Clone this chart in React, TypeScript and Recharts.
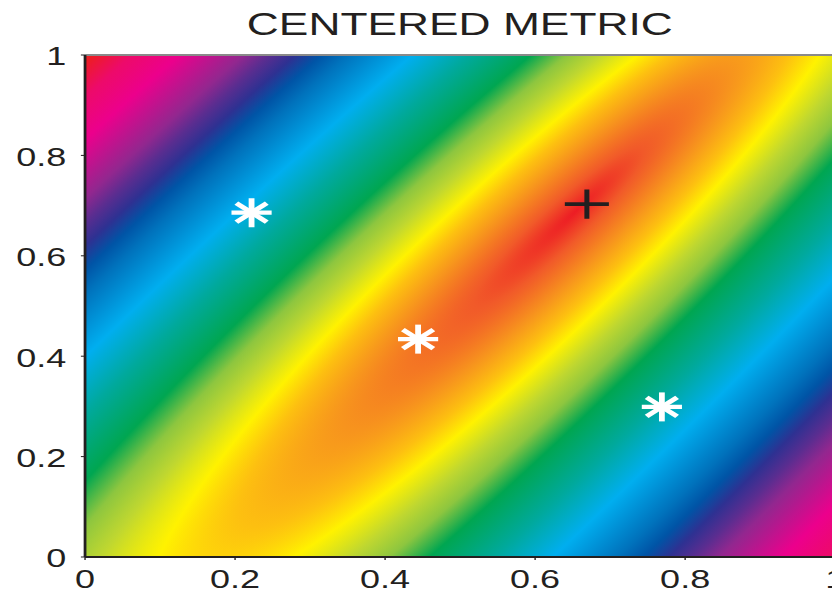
import React from "react";
import { ScatterChart, Scatter, XAxis, YAxis, ReferenceArea, ReferenceLine } from "recharts";

const xTicks = [0, 0.2, 0.4, 0.6, 0.8, 1];
const yTicks = [0, 0.2, 0.4, 0.6, 0.8, 1];

// white asterisks
const starX = [0.222, 0.444, 0.769];
const starY = [0.686, 0.434, 0.299];
// black cross (the centre)
const centerX = [0.669];
const centerY = [0.703];

// metric level of each colour band, 0 = red valley at the centre
const levels = [0, 0.35, 0.8, 1.15, 1.45, 1.85, 2.2, 2.6, 3.3, 3.95, 4.7, 5.0, 5.3, 5.6, 5.9, 6.65, 7.2, 7.65, 8.6];
const levelColors = [
  "#ED1C24", "#F15A29", "#F7941D", "#FDC010", "#FFF200", "#BFD730", "#8DC63F", "#00A651",
  "#00A99D", "#00AEEF", "#0072BC", "#0054A6", "#2E3192", "#5B2D90", "#92278F", "#EC008C",
  "#ED0A6A", "#ED1C24", "#F15A29",
];

// shape of the level sets (data units)
const FOCUS = [0.655, 0.69];
const AXIS_DEG = 55;
const T_MAX = 10;
const FOCAL = 0.21;
const R_MAJOR = 5.5;
const R_MINOR = 0.938;

const SX = 1.385; // the figure is stretched sideways
const INK = "#231F20";
const FONT = "'Liberation Sans', Arial, sans-serif";

const stars = starX.map((x, i) => ({ x, y: starY[i] }));
const centers = centerX.map((x, i) => ({ x, y: centerY[i] }));

const fmt = (v: number) => String(v);

function FieldShape(props: any) {
  const { x, y, width: W, height: H } = props;
  const phi = (AXIS_DEG * Math.PI) / 180;
  const cos = Math.cos(phi);
  const sin = Math.sin(phi);
  const cxd = FOCUS[0] - FOCAL * R_MAJOR * cos;
  const cyd = FOCUS[1] - FOCAL * R_MAJOR * sin;
  const m = [
    W * R_MAJOR * cos,
    -H * R_MAJOR * sin,
    -W * R_MINOR * sin,
    -H * R_MINOR * cos,
    x + cxd * W,
    y + (1 - cyd) * H,
  ];
  return (
    <g>
      <defs>
        <radialGradient
          id="metricField"
          gradientUnits="userSpaceOnUse"
          cx={0}
          cy={0}
          r={1}
          fx={FOCAL}
          fy={0}
          gradientTransform={`matrix(${m.join(" ")})`}
        >
          {levels.map((t, i) => (
            <stop key={i} offset={t / T_MAX} stopColor={levelColors[i]} />
          ))}
        </radialGradient>
      </defs>
      <rect x={x} y={y} width={W} height={H} fill="url(#metricField)" />
    </g>
  );
}

function Asterisk(props: any) {
  const { cx, cy } = props;
  const r = 14.5;
  const dx = 11;
  const dy = 9.5;
  return (
    <g stroke="#fff" strokeWidth={4.2}>
      <line x1={cx - r} y1={cy} x2={cx + r} y2={cy} />
      <line x1={cx} y1={cy - r} x2={cx} y2={cy + r} />
      <line x1={cx - dx} y1={cy - dy} x2={cx + dx} y2={cy + dy} />
      <line x1={cx - dx} y1={cy + dy} x2={cx + dx} y2={cy - dy} />
    </g>
  );
}

function Cross(props: any) {
  const { cx, cy } = props;
  return (
    <g stroke={INK} strokeWidth={3.6}>
      <line x1={cx - 15.9} y1={cy} x2={cx + 15.9} y2={cy} />
      <line x1={cx} y1={cy - 14.7} x2={cx} y2={cy + 14.7} />
    </g>
  );
}

function XTick(props: any) {
  const { x, y, payload } = props;
  return (
    <text x={x} y={y} dy={28.5} textAnchor="middle" fontSize={26} fontFamily={FONT} fill={INK}>
      {fmt(payload.value)}
    </text>
  );
}

function YTick(props: any) {
  const { x, y, payload } = props;
  return (
    <text x={x} y={y} dy={10.5} textAnchor="end" fontSize={26} fontFamily={FONT} fill={INK}>
      {fmt(payload.value)}
    </text>
  );
}

export default function App() {
  return (
    <div style={{ position: "absolute", left: 0, top: 0, width: 832, height: 594, overflow: "hidden", background: "#fff" }}>
      <div style={{ position: "relative", width: 620, height: 594, transform: `scale(${SX},1)`, transformOrigin: "0 0" }}>
        <div
          style={{
            position: "absolute",
            left: 0,
            top: 8,
            width: 664,
            textAlign: "center",
            fontFamily: FONT,
            fontSize: 32,
            lineHeight: "32px",
            color: INK,
          }}
        >
          CENTERED METRIC
        </div>
        <ScatterChart width={620} height={594} margin={{ top: 55, right: 17, bottom: 0, left: 0 }}>
          <XAxis
            type="number"
            dataKey="x"
            domain={[0, 1]}
            ticks={xTicks}
            height={37}
            tick={XTick}
            tickSize={3}
            tickMargin={0}
            axisLine={{ stroke: INK, strokeWidth: 2 }}
            tickLine={{ stroke: INK }}
            allowDataOverflow
          />
          <YAxis
            type="number"
            dataKey="y"
            domain={[0, 1]}
            ticks={yTicks}
            width={61.4}
            tick={YTick}
            tickSize={3}
            tickMargin={10.5}
            axisLine={{ stroke: INK, strokeWidth: 2 }}
            tickLine={{ stroke: INK }}
            allowDataOverflow
          />
          <ReferenceArea x1={0} x2={1} y1={0} y2={1} shape={FieldShape} />
          <ReferenceLine y={1} stroke="#8a8a8a" strokeWidth={2} />
          <ReferenceLine x={1} stroke="#8a8a8a" strokeWidth={2} />
          <Scatter data={stars} shape={Asterisk} isAnimationActive={false} />
          <Scatter data={centers} shape={Cross} isAnimationActive={false} />
        </ScatterChart>
      </div>
    </div>
  );
}
